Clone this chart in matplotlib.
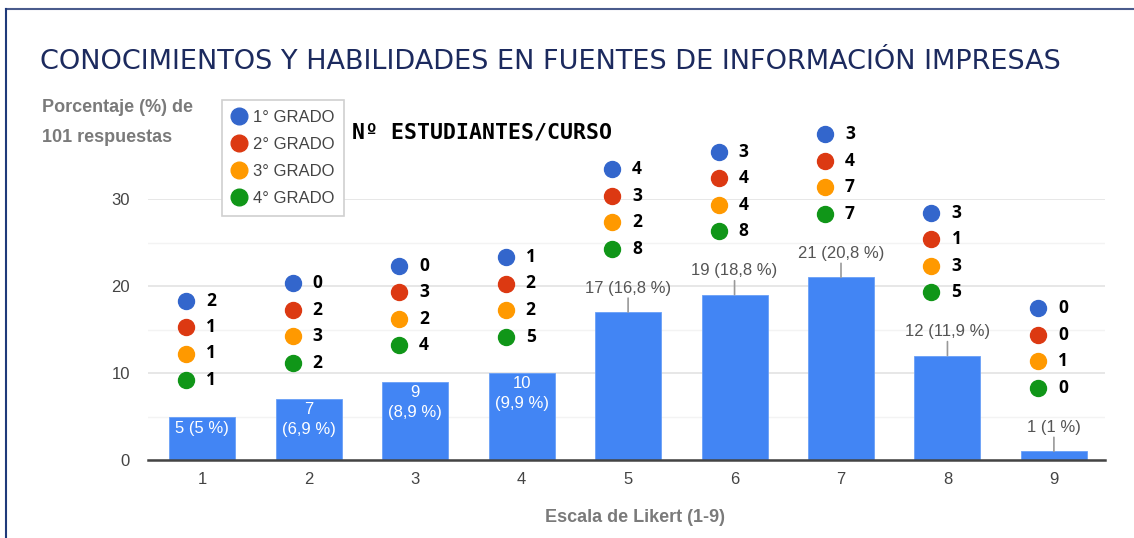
import matplotlib.pyplot as plt
from matplotlib.lines import Line2D
from matplotlib.transforms import offset_copy

# datos
escala = [1, 2, 3, 4, 5, 6, 7, 8, 9]
respuestas = [5, 7, 9, 10, 17, 19, 21, 12, 1]
porcentajes = [5, 6.9, 8.9, 9.9, 16.8, 18.8, 20.8, 11.9, 1]
grado1 = [2, 0, 0, 1, 4, 3, 3, 3, 0]
grado2 = [1, 2, 3, 2, 3, 4, 4, 1, 0]
grado3 = [1, 3, 2, 2, 2, 4, 7, 3, 1]
grado4 = [1, 2, 4, 5, 8, 8, 7, 5, 0]
grados = ["1° GRADO", "2° GRADO", "3° GRADO", "4° GRADO"]
y_ticks = [0, 10, 20, 30]

# modo de la etiqueta de cada barra (dentro en una linea, dentro en dos, fuera)
modo = ['in1', 'in2', 'in2', 'in2', 'out', 'out', 'out', 'out', 'out']

colores = ['#3366cc', '#dc3912', '#ff9900', '#109618']
azul = '#4285f4'
fuente = 'Liberation Sans'

fig = plt.figure(figsize=(11.34, 5.38), dpi=100)
ax = fig.add_axes([148 / 1134, 78 / 538, 957 / 1134, 261 / 538])

ax.bar(escala, respuestas, width=0.62, color=azul, edgecolor='#6aa0f7', linewidth=0.6, zorder=3)

ax.set_xlim(0.49, 9.48)
ax.set_ylim(0, 30)
ax.set_yticks(y_ticks)
ax.set_yticks([5, 15, 25], minor=True)
ax.set_xticks(escala)
ax.grid(axis='y', which='major', color='#e3e3e3', linewidth=1.2, zorder=0)
ax.grid(axis='y', which='minor', color='#f3f3f3', linewidth=1.0, zorder=0)
for s in ['top', 'right', 'left']:
    ax.spines[s].set_visible(False)
ax.spines['bottom'].set_color('#444444')
ax.spines['bottom'].set_linewidth(1.8)
ax.spines['bottom'].set_zorder(4)
ax.tick_params(axis='both', which='both', length=0)
ax.tick_params(axis='x', pad=9, labelsize=12, labelcolor='#444444')
ax.tick_params(axis='y', pad=13, labelsize=12, labelcolor='#444444')
for lab in ax.get_xticklabels() + ax.get_yticklabels():
    lab.set_fontfamily(fuente)


def fmt(p):
    return ('%g' % p).replace('.', ',') + ' %'


for x, c, p, m in zip(escala, respuestas, porcentajes, modo):
    if m == 'in1':
        t = offset_copy(ax.transData, fig, x=0, y=-5, units='dots')
        ax.text(x, c, '%d (%s)' % (c, fmt(p)), transform=t, ha='center', va='top',
                color='white', fontsize=12, family=fuente, zorder=5)
    elif m == 'in2':
        t = offset_copy(ax.transData, fig, x=0, y=-3, units='dots')
        ax.text(x, c, '%d\n(%s)' % (c, fmt(p)), transform=t, ha='center', va='top',
                color='white', fontsize=12, family=fuente, linespacing=1.4, zorder=5)
    else:
        t = offset_copy(ax.transData, fig, x=0, y=24, units='dots')
        ax.text(x, c, '%d (%s)' % (c, fmt(p)), transform=t, ha='center', va='center',
                color='#555555', fontsize=12, family=fuente, zorder=5)
        ax.annotate('', xy=(x, c), xytext=(0, 14), textcoords='offset pixels',
                    arrowprops=dict(arrowstyle='-', color='#999999', lw=1.2,
                                    shrinkA=0, shrinkB=0))

# puntos con el numero de estudiantes por curso
for i, serie in enumerate([grado1, grado2, grado3, grado4]):
    for x, c, n, m in zip(escala, respuestas, serie, modo):
        dy = (143 if m == 'out' else 116) - 26.5 * i
        td = offset_copy(ax.transData, fig, x=-16, y=dy, units='dots')
        ax.plot([x], [c], 'o', color=colores[i], markersize=11.5, transform=td,
                clip_on=False, zorder=6)
        tt = offset_copy(ax.transData, fig, x=4, y=dy, units='dots')
        ax.text(x, c, str(n), transform=tt, ha='left', va='center', fontsize=12.5,
                fontweight='bold', family='Open Sans', color='black', zorder=6)

# leyenda
handles = [Line2D([], [], marker='o', linestyle='', color=col, markersize=12) for col in colores]
leg = fig.legend(handles, grados, loc='upper left', bbox_to_anchor=(222 / 1134, 1 - 100 / 538),
                 frameon=True, fancybox=False, edgecolor='#d0d0d0', framealpha=1,
                 prop={'family': fuente, 'size': 12}, labelspacing=0.72,
                 handletextpad=0.45, borderpad=0.6, handlelength=0.8, borderaxespad=0)
leg.get_frame().set_linewidth(1.2)
for t in leg.get_texts():
    t.set_color('#444444')

# textos
fig.text(40 / 1134, 1 - 62 / 538, 'CONOCIMIENTOS Y HABILIDADES EN FUENTES DE INFORMACIÓN IMPRESAS',
         ha='left', va='center', fontsize=19.5, family='DejaVu Sans', color='#1c2a5e')
fig.text(42 / 1134, 1 - 108 / 538, 'Porcentaje (%) de', ha='left', va='center',
         fontsize=13, family=fuente, fontweight='bold', color='#7a7a7a')
fig.text(42 / 1134, 1 - 137 / 538, '101 respuestas', ha='left', va='center',
         fontsize=13, family=fuente, fontweight='bold', color='#7a7a7a')
fig.text(352 / 1134, 1 - 132 / 538, 'Nº ESTUDIANTES/CURSO', ha='left', va='center',
         fontsize=15.5, family='DejaVu Sans Mono', fontweight='bold', color='black')
fig.text(635 / 1134, 1 - 518 / 538, 'Escala de Likert (1-9)', ha='center', va='center',
         fontsize=13, family=fuente, fontweight='bold', color='#7a7a7a')

# marco
fig.add_artist(Line2D([6 / 1134, 1], [1 - 9 / 538, 1 - 9 / 538], color='#4a5b8c', lw=1.5))
fig.add_artist(Line2D([6 / 1134, 6 / 1134], [0, 1 - 9 / 538], color='#1f3a7a', lw=1.5))

fig.savefig('out.png', dpi=100, facecolor='white')
